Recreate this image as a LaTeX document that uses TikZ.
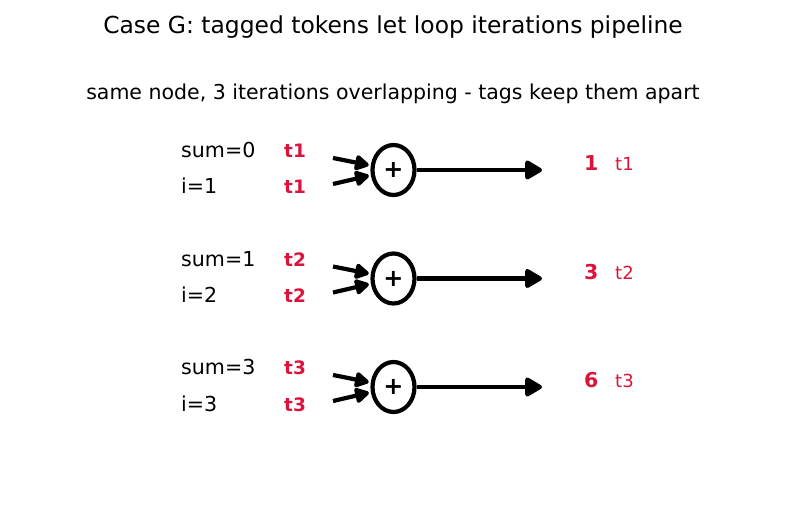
\documentclass[tikz,border=0pt]{standalone}
\usepackage{fontspec}
\setmainfont{DejaVu Sans}
\usetikzlibrary{arrows.meta,shapes.geometric}
\definecolor{tagred}{RGB}{220,20,60}
\tikzset{
  lbl/.style={anchor=base west, inner sep=0pt, font=\fontsize{20.6}{24}\selectfont},
  tagl/.style={anchor=base west, inner sep=0pt, text=tagred, font=\fontsize{18.5}{22}\selectfont\bfseries},
  resnum/.style={anchor=base west, inner sep=0pt, text=tagred, font=\fontsize{20.5}{24}\selectfont\bfseries},
  restag/.style={anchor=base west, inner sep=0pt, text=tagred, font=\fontsize{18}{21}\selectfont},
  addop/.style={draw, ellipse, line width=4.2pt, minimum width=42pt, minimum height=50pt,
    inner sep=0pt, font=\fontsize{24}{26}\selectfont\bfseries},
  flow/.style={line width=4.2pt, -{Triangle[length=19pt,width=21pt,round]}},
  feed/.style={line width=4.2pt, -{Triangle[length=16pt,width=17pt,round]}, shorten >=2pt},
}

\begin{document}
\begin{tikzpicture}[x=1pt,y=-1pt]
    \useasboundingbox (0,0) rectangle (787,510);
    % headings
    \node (title) at (393,27)
        {\fontsize{23.4}{28}\selectfont Case G: tagged tokens let loop iterations pipeline};
    \node (subtitle) at (393,94)
        {\fontsize{20.5}{24}\selectfont same node, 3 iterations overlapping - tags keep them apart};
    % one row per iteration
    \foreach \s/\i/\res [count=\k] in {0/1/1, 1/2/3, 3/3/6} {
        \pgfmathsetmacro{\yy}{170+108.5*(\k-1)}
        \node[lbl]  (sum\k)  at (181,\yy-12) {sum=\s};
        \node[lbl]  (i\k)    at (181,\yy+24) {i=\i};
        \node[tagl] (tags\k) at (284,\yy-12) {t\k};
        \node[tagl] (tagi\k) at (284,\yy+24) {t\k};
        \node[addop] (add\k) at (393.5,\yy) {+};
        \coordinate (ina\k) at (333,\yy-12);
        \coordinate (inb\k) at (333,\yy+14);
        \coordinate (out\k) at (542,\yy);
        \draw[feed] (ina\k) -- (add\k);
        \draw[feed] (inb\k) -- (add\k);
        \draw[flow] (add\k) -- (out\k);
        \node[resnum] (res\k)  at (584,\yy+1) {\res};
        \node[restag] (rtag\k) at (615,\yy+1) {t\k};
    }
\end{tikzpicture}
\end{document}
